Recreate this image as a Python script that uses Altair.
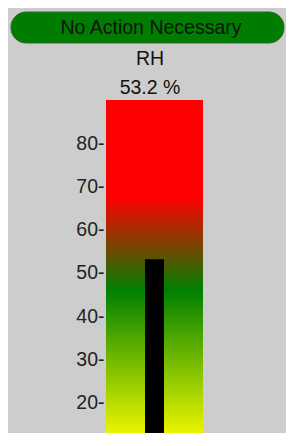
import altair as alt
import pandas as pd

# ---- data ----
status_text = ["No Action Necessary"]
sensor_name = ["RH"]
reading = [53.2]
unit = ["%"]
gauge_range = [10, 90]          # full extent of the coloured gauge
axis_values = [20, 30, 40, 50, 60, 70, 80]

# ---- layout ----
W, H = 97, 333
Y_DOMAIN = [13, 90]
FONT = "Liberation Sans"

gauge_df = pd.DataFrame({"top": [gauge_range[1]], "bottom": [gauge_range[0]]})
bar_df = pd.DataFrame({"value": reading, "base": [gauge_range[0]]})
status_df = pd.DataFrame({"t": status_text})
name_df = pd.DataFrame({"t": sensor_name})
read_df = pd.DataFrame({"t": [f"{reading[0]:.1f} {unit[0]}"]})

yscale = alt.Scale(domain=Y_DOMAIN, nice=False, zero=False)

gradient = alt.LinearGradient(
    gradient="linear",
    stops=[
        alt.GradientStop(offset=0.0, color="#ff0000"),
        alt.GradientStop(offset=0.28, color="#ff0000"),
        alt.GradientStop(offset=0.55, color="#008000"),
        alt.GradientStop(offset=1.0, color="#ffff00"),
    ],
    x1=0, x2=0, y1=0, y2=1,
)

gauge = alt.Chart(gauge_df).mark_rect(color=gradient).encode(
    x=alt.value(0),
    x2=alt.value(W),
    y=alt.Y("top:Q", scale=yscale, axis=alt.Axis(
        values=axis_values, labelExpr="datum.label + '-'", ticks=False,
        labelFontSize=19.5, labelFont=FONT, labelColor="#222222",
        labelPadding=2, domain=True, domainColor="#8a8a8a", domainWidth=1,
        grid=False, title=None)),
    y2="bottom:Q",
)

bar = alt.Chart(bar_df).mark_rect(color="#000000").encode(
    x=alt.value(39),
    x2=alt.value(58),
    y=alt.Y("value:Q", scale=yscale),
    y2="base:Q",
)

pill = alt.Chart(status_df).mark_rect(
    color="#007c00", stroke="#2d6b2d", strokeWidth=1, cornerRadius=15
).encode(
    x=alt.value(-95), x2=alt.value(178), y=alt.value(-88), y2=alt.value(-57)
)

status = alt.Chart(status_df).mark_text(
    font=FONT, fontSize=19.5, color="#111111", align="center", baseline="middle"
).encode(x=alt.value(45), y=alt.value(-72), text="t:N")

name = alt.Chart(name_df).mark_text(
    font=FONT, fontSize=19.5, color="#111111", align="center", baseline="middle"
).encode(x=alt.value(44), y=alt.value(-41), text="t:N")

read = alt.Chart(read_df).mark_text(
    font=FONT, fontSize=19.5, color="#111111", align="center", baseline="middle"
).encode(x=alt.value(44), y=alt.value(-12), text="t:N")

chart = alt.layer(gauge, bar, pill, status, name, read).properties(
    width=W,
    height=H,
    autosize="none",
    padding={"left": 98, "top": 92, "right": 83, "bottom": 0},
    background="#cdcdcd",
).configure_view(stroke=None)

chart.save("out.html", embed_options={"renderer": "svg", "actions": False})
